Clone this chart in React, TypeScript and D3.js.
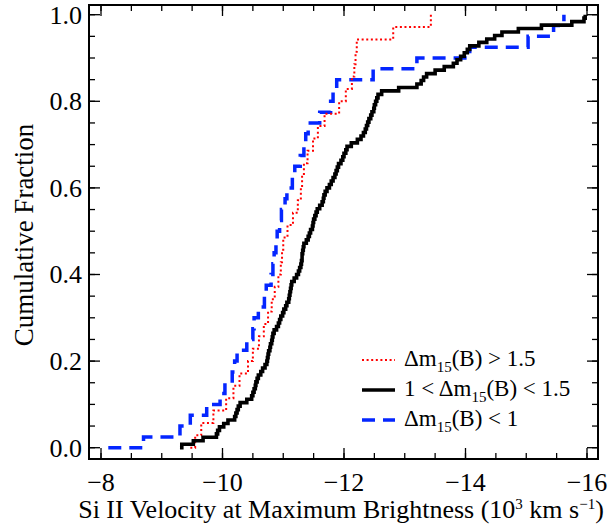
import React from "react";
import * as d3 from "d3";

// Sorted Si II velocities (10^3 km/s) for each Δm15(B) group
const fastDecliners = [
  -9.47, -9.55, -9.65, -9.85, -10.06, -10.18, -10.28, -10.42, -10.5, -10.6,
  -10.68, -10.75, -10.81, -10.86, -10.92, -10.96, -10.98, -11.0, -11.07, -11.16,
  -11.24, -11.29, -11.31, -11.34, -11.4, -11.49, -11.57, -11.68, -11.92, -12.03,
  -12.13, -12.17, -12.19, -12.21, -12.81, -13.43,
];

const normalDecliners = [
  -9.3, -9.33, -9.52, -9.68, -9.9, -9.92, -9.95, -10.02, -10.09, -10.2,
  -10.22, -10.24, -10.26, -10.29, -10.4, -10.48, -10.5, -10.52, -10.54, -10.55,
  -10.57, -10.59, -10.63, -10.66, -10.7, -10.73, -10.74, -10.75, -10.76, -10.78,
  -10.79, -10.81, -10.82, -10.83, -10.85, -10.89, -10.92, -10.94, -10.96, -10.99,
  -11.01, -11.04, -11.06, -11.09, -11.1, -11.11, -11.12, -11.13, -11.14, -11.18,
  -11.22, -11.25, -11.27, -11.29, -11.3, -11.31, -11.31, -11.32, -11.33, -11.34,
  -11.38, -11.41, -11.43, -11.45, -11.48, -11.49, -11.5, -11.52, -11.54, -11.56,
  -11.6, -11.64, -11.66, -11.67, -11.69, -11.72, -11.76, -11.79, -11.82, -11.85,
  -11.87, -11.89, -11.91, -11.95, -11.98, -12.0, -12.03, -12.05, -12.12, -12.22,
  -12.28, -12.32, -12.35, -12.37, -12.39, -12.41, -12.44, -12.46, -12.49, -12.5,
  -12.52, -12.54, -12.56, -12.62, -12.9, -13.2, -13.27, -13.31, -13.36, -13.5,
  -13.65, -13.8, -13.86, -13.92, -13.98, -14.03, -14.07, -14.22, -14.35, -14.48,
  -14.6, -14.87, -15.25, -15.75, -15.95, -15.97,
];

const slowDecliners = [
  -8.12, -8.7, -9.3, -9.47, -9.74, -9.96, -10.04, -10.16, -10.2, -10.24,
  -10.4, -10.5, -10.52, -10.59, -10.69, -10.72, -10.8, -10.83, -10.85, -10.88,
  -10.9, -10.94, -10.97, -11.03, -11.06, -11.15, -11.19, -11.28, -11.34, -11.37,
  -11.41, -11.6, -11.78, -11.82, -11.88, -12.48, -13.2, -14.07, -15.03, -15.45,
  -15.62,
];

const xMajorTicks = [-8, -10, -12, -14, -16];
const xMinorTicks = [-8, -8.5, -9, -9.5, -10, -10.5, -11, -11.5, -12, -12.5, -13, -13.5, -14, -14.5, -15, -15.5, -16];
const yMajorTicks = [0, 0.2, 0.4, 0.6, 0.8, 1.0];
const yMinorTicks = [0, 0.05, 0.1, 0.15, 0.2, 0.25, 0.3, 0.35, 0.4, 0.45, 0.5, 0.55, 0.6, 0.65, 0.7, 0.75, 0.8, 0.85, 0.9, 0.95, 1.0];

const FONT = "Liberation Serif";
const W = 610;
const H = 525;
const box = { left: 89, right: 598, top: 5, bottom: 459 };

const x = d3.scaleLinear().domain([-8, -16]).range([101, 587]);
const y = d3.scaleLinear().domain([0, 1]).range([447.7, 14.7]);

const RED = "#ff0000";
const BLUE = "#0426ff";

const series = [
  { key: "slow", data: slowDecliners, color: BLUE, width: 3.5, dash: "13,8" },
  { key: "fast", data: fastDecliners, color: RED, width: 2, dash: "2,2.6" },
  { key: "normal", data: normalDecliners, color: "#000000", width: 3.6, dash: null },
];

const lineGen = d3
  .line<[number, number]>()
  .x((d) => x(d[0]))
  .y((d) => y(d[1]))
  .curve(d3.curveStepAfter);

function ecdf(vals: number[]): [number, number][] {
  const n = vals.length;
  return vals.map((v, i) => [v, i / (n - 1)] as [number, number]);
}

const fmtX = (v: number) => (v < 0 ? "\u2212" + Math.abs(v) : String(v));

export default function App() {
  const MAJ = 11;
  const MIN = 6;
  const legendRows = [
    { y: 360, color: RED, width: 2, dash: "2,2.6", pre: "", post: "(B) > 1.5" },
    { y: 390, color: "#000000", width: 3.6, dash: null, pre: "1 < ", post: "(B) < 1.5" },
    { y: 420, color: BLUE, width: 3.5, dash: "13,8", pre: "", post: "(B) < 1" },
  ];
  return (
    <svg width={W} height={H} style={{ position: "absolute", left: 0, top: 0 }}>
      <rect x={0} y={0} width={W} height={H} fill="#fff" />
      {series.map((s) => (
        <path
          key={s.key}
          d={lineGen(ecdf(s.data)) || ""}
          fill="none"
          stroke={s.color}
          strokeWidth={s.width}
          strokeDasharray={s.dash || undefined}
        />
      ))}
      <rect
        x={box.left}
        y={box.top}
        width={box.right - box.left}
        height={box.bottom - box.top}
        fill="none"
        stroke="#000"
        strokeWidth={2}
      />
      {xMinorTicks.map((t) => (
        <g key={"xm" + t}>
          <line x1={x(t)} x2={x(t)} y1={box.bottom} y2={box.bottom - MIN} stroke="#000" strokeWidth={1.3} />
          <line x1={x(t)} x2={x(t)} y1={box.top} y2={box.top + MIN} stroke="#000" strokeWidth={1.3} />
        </g>
      ))}
      {xMajorTicks.map((t) => (
        <g key={"xM" + t}>
          <line x1={x(t)} x2={x(t)} y1={box.bottom} y2={box.bottom - MAJ} stroke="#000" strokeWidth={1.3} />
          <line x1={x(t)} x2={x(t)} y1={box.top} y2={box.top + MAJ} stroke="#000" strokeWidth={1.3} />
          <text x={x(t)} y={491} textAnchor="middle" fontFamily={FONT} fontSize={26}>
            {fmtX(t)}
          </text>
        </g>
      ))}
      {yMinorTicks.map((t) => (
        <g key={"ym" + t}>
          <line x1={box.left} x2={box.left + MIN} y1={y(t)} y2={y(t)} stroke="#000" strokeWidth={1.3} />
          <line x1={box.right} x2={box.right - MIN} y1={y(t)} y2={y(t)} stroke="#000" strokeWidth={1.3} />
        </g>
      ))}
      {yMajorTicks.map((t) => (
        <g key={"yM" + t}>
          <line x1={box.left} x2={box.left + MAJ} y1={y(t)} y2={y(t)} stroke="#000" strokeWidth={1.3} />
          <line x1={box.right} x2={box.right - MAJ} y1={y(t)} y2={y(t)} stroke="#000" strokeWidth={1.3} />
          <text x={82} y={y(t) + 8.8} textAnchor="end" fontFamily={FONT} fontSize={26}>
            {t.toFixed(1)}
          </text>
        </g>
      ))}
      <text x={341} y={518} textAnchor="middle" fontFamily={FONT} fontSize={26}>
        Si II Velocity at Maximum Brightness (10
        <tspan fontSize={15} dy={-9}>3</tspan>
        <tspan dy={9}> km s</tspan>
        <tspan fontSize={15} dy={-9}>{"\u22121"}</tspan>
        <tspan dy={9}>)</tspan>
      </text>
      <text
        transform="translate(33, 235) rotate(-90)"
        textAnchor="middle"
        fontFamily={FONT}
        fontSize={27}
      >
        Cumulative Fraction
      </text>
      {legendRows.map((r, i) => (
        <g key={"lg" + i}>
          <line
            x1={362}
            x2={395}
            y1={r.y}
            y2={r.y}
            stroke={r.color}
            strokeWidth={r.width}
            strokeDasharray={r.dash || undefined}
          />
          <text x={404} y={r.y + 5.5} fontFamily={FONT} fontSize={23}>
            {r.pre}
            {"\u0394m"}
            <tspan fontSize={15} dy={6}>15</tspan>
            <tspan dy={-6}>{r.post}</tspan>
          </text>
        </g>
      ))}
    </svg>
  );
}
